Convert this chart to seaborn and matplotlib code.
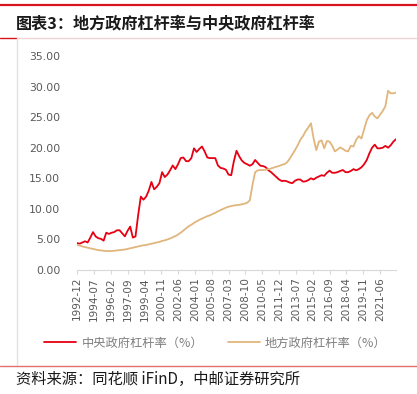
import numpy as np
import pandas as pd
import matplotlib
matplotlib.use('Agg')
import matplotlib.pyplot as plt
from matplotlib.lines import Line2D
import seaborn as sns

sns.set_style('white')
plt.rcParams['font.family'] = ['Noto Sans CJK SC', 'DejaVu Sans']

# quarterly observations, 1992-12 .. 2022-12
quarters = pd.period_range('1992Q4', '2022Q4', freq='Q')

central_lev = [4.4, 4.3, 4.5, 4.7, 4.5, 5.3, 6.2, 5.5, 5.2, 5.1,
               4.8, 6.1, 5.9, 6.1, 6.2, 6.5, 6.5, 6.0, 5.5, 6.4,
               7.1, 5.3, 5.5, 9.0, 12.0, 11.5, 12.0, 13.0, 14.4, 13.2,
               13.6, 14.2, 16.0, 15.2, 15.6, 16.3, 17.1, 16.5, 17.3, 18.3,
               18.4, 17.8, 17.8, 18.3, 19.9, 19.3, 19.8, 20.2, 19.4, 18.4,
               18.3, 18.3, 18.3, 17.1, 16.7, 16.6, 16.4, 15.6, 15.5, 17.8,
               19.5, 18.6, 17.9, 17.5, 17.3, 17.05, 17.3, 18.0, 17.5, 17.05,
               17.0, 16.8, 16.3, 16.0, 15.6, 15.2, 14.8, 14.55, 14.6, 14.5,
               14.3, 14.2, 14.6, 14.8, 14.8, 14.45, 14.5, 14.7, 15.0, 14.8,
               15.1, 15.3, 15.5, 15.4, 15.9, 16.25, 15.9, 15.9, 16.0, 16.2,
               16.35, 16.0, 16.0, 16.2, 16.5, 16.3, 16.5, 16.8, 17.3, 18.0,
               19.1, 20.0, 20.5, 19.9, 19.9, 20.0, 20.3, 20.0, 20.4, 21.0,
               21.4]

local_lev = [4.1, 4.0, 3.85, 3.75, 3.65, 3.55, 3.45, 3.35, 3.25, 3.2,
             3.15, 3.1, 3.1, 3.1, 3.15, 3.2, 3.25, 3.3, 3.35, 3.45,
             3.55, 3.65, 3.75, 3.85, 3.95, 4.05, 4.1, 4.2, 4.3, 4.4,
             4.5, 4.6, 4.75, 4.85, 5.0, 5.15, 5.35, 5.55, 5.8, 6.1,
             6.45, 6.8, 7.15, 7.4, 7.7, 7.95, 8.2, 8.4, 8.6, 8.8,
             8.95, 9.15, 9.35, 9.6, 9.8, 10.0, 10.2, 10.35, 10.45, 10.55,
             10.6, 10.65, 10.75, 10.85, 11.0, 11.4, 13.9, 16.0, 16.3, 16.35,
             16.35, 16.4, 16.5, 16.6, 16.75, 16.9, 17.0, 17.2, 17.3, 17.6,
             18.2, 18.9, 19.6, 20.4, 21.3, 21.9, 22.7, 23.3, 24.0, 21.5,
             19.6, 21.0, 21.2, 19.9, 21.1, 21.0, 20.3, 19.4, 19.7, 20.05,
             19.8, 19.5, 19.4, 20.3, 20.2, 21.3, 21.9, 21.5, 23.0, 24.5,
             25.3, 25.7, 25.1, 24.8, 25.4, 26.0, 26.8, 29.3, 28.9, 28.9,
             29.0]

tick_labels = ['1992-12', '1994-07', '1996-02', '1997-09', '1999-04', '2000-11',
               '2002-06', '2004-01', '2005-08', '2007-03', '2008-10', '2010-05',
               '2011-12', '2013-07', '2015-02', '2016-09', '2018-04', '2019-11',
               '2021-06']

central_name = '中央政府杠杆率（%）'
local_name = '地方政府杠杆率（%）'


def month_index(y, m):
    return (y - 1992) * 12 + m - 12


df = pd.DataFrame({
    'month': [month_index(p.year, p.month) for p in quarters.asfreq('M', 'end')],
    central_name: central_lev,
    local_name: local_lev,
})
tick_pos = [month_index(int(s[:4]), int(s[5:])) for s in tick_labels]

red = '#e60012'
tan = '#e0b67c'
grey_txt = '#595959'

fig = plt.figure(figsize=(4.17, 3.94), dpi=100)
ax = fig.add_axes([0.1847, 0.3147, 0.765, 0.5432])

sns.lineplot(data=df, x='month', y=central_name, color=red, linewidth=1.3,
             label=central_name, ax=ax)
sns.lineplot(data=df, x='month', y=local_name, color=tan, linewidth=1.3,
             label=local_name, ax=ax)

ax.set_xlim(0, df['month'].max())
ax.set_ylim(0, 35)
ax.set_yticks(np.arange(0, 36, 5))
ax.set_yticklabels([f'{v:.2f}' for v in np.arange(0, 36, 5)])
ax.set_xticks(tick_pos)
ax.set_xticklabels(tick_labels, rotation=90)
ax.set_xlabel('')
ax.set_ylabel('')

for side in ['top', 'right', 'left']:
    ax.spines[side].set_visible(False)
ax.spines['bottom'].set_color('#d9d9d9')
ax.tick_params(axis='y', length=0, pad=12, labelsize=7.8, labelcolor=grey_txt)
ax.tick_params(axis='x', length=3, color='#d9d9d9', pad=2, labelsize=7.6,
               labelcolor=grey_txt, bottom=True)
for lbl in ax.get_xticklabels() + ax.get_yticklabels():
    lbl.set_family(['DejaVu Sans'])

ax.get_legend().remove()
handles, labels = ax.get_legend_handles_labels()
fig.legend(handles, labels, loc='center', bbox_to_anchor=(0.517, 0.129), ncol=2,
           frameon=False, fontsize=8.8, labelcolor='#7f7f7f', handlelength=2.6,
           handletextpad=0.45, columnspacing=2.0)

# page decorations of the report layout
fig.add_artist(Line2D([0, 1], [1 - 5 / 394, 1 - 5 / 394], color='#d7141e', linewidth=1.6))
fig.add_artist(Line2D([17 / 417, 1], [1 - 38 / 394, 1 - 38 / 394], color='#f0d4d4', linewidth=1.0))
fig.add_artist(Line2D([0, 17 / 417], [1 - 38 / 394, 1 - 38 / 394], color='#d7141e', linewidth=1.0))
fig.add_artist(Line2D([17 / 417, 17 / 417], [1 - 38 / 394, 1 - 365 / 394], color='#e3e3e3', linewidth=1.0))
fig.add_artist(Line2D([0, 1], [1 - 366 / 394, 1 - 366 / 394], color='#e07070', linewidth=1.0))

fig.text(16 / 417, 1 - 23 / 394, '图表3：地方政府杠杆率与中央政府杠杆率', fontsize=11.6,
         fontweight='bold', color='#1a1a1a', va='center', ha='left')
fig.text(16 / 417, 1 - 379 / 394, '资料来源：同花顺 iFinD，中邮证券研究所', fontsize=11,
         color='#1a1a1a', va='center', ha='left')

fig.savefig('out.png', dpi=100, facecolor='white')
